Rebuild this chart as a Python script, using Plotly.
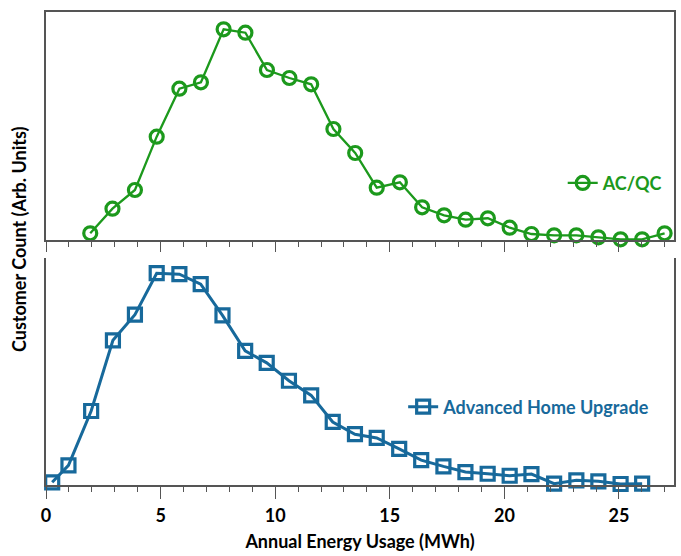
import plotly.graph_objects as go

# AC/QC series (top panel)
acqc_x = [1.93, 2.90, 3.88, 4.83, 5.82, 6.76, 7.75, 8.70, 9.64, 10.62, 11.57, 12.54, 13.49,
          14.43, 15.44, 16.41, 17.37, 18.31, 19.28, 20.23, 21.18, 22.17, 23.14, 24.10,
          25.07, 26.01, 26.99]
acqc_y = [6.7, 31.3, 50, 103.3, 151.3, 157.7, 210.7, 207.3, 170, 162, 155.7, 111, 87,
          52.3, 57.7, 32.7, 24.7, 20.3, 21.7, 12.3, 6, 4.7, 4.7, 2.7, 0.7, 0.7, 6.7]

# Advanced Home Upgrade series (bottom panel)
ahu_x = [0.27, 0.98, 1.97, 2.92, 3.88, 4.83, 5.82, 6.75, 7.70, 8.69, 9.63, 10.60, 11.57,
         12.51, 13.48, 14.43, 15.41, 16.37, 17.34, 18.30, 19.27, 20.23, 21.18, 22.17,
         23.14, 24.10, 25.07, 26.01]
ahu_y = [1.7, 18.7, 73.3, 144.3, 170, 211.7, 210.7, 200.7, 169.3, 133.7, 121.7, 103.7, 89,
         62.3, 50, 46.3, 35.3, 24, 17.7, 12, 10.3, 8.3, 10, 0.3, 3.7, 2.7, 0, 0.3]

x_tickvals = [0, 5, 10, 15, 20, 25]

GREEN = "#1c991c"
BLUE = "#17699b"
AXIS = "#555555"
FONT = "Lato"
FS = 18

fig = go.Figure()
fig.add_trace(go.Scatter(
    x=acqc_x, y=acqc_y, name="AC/QC", mode="lines+markers", showlegend=True,
    line=dict(color=GREEN, width=2.3),
    marker=dict(symbol="circle-open", size=13, color=GREEN, line=dict(width=3.2, color=GREEN)),
    xaxis="x", yaxis="y", legend="legend", cliponaxis=False))
fig.add_trace(go.Scatter(
    x=ahu_x, y=ahu_y, name="Advanced Home Upgrade", mode="lines+markers", showlegend=True,
    line=dict(color=BLUE, width=3),
    marker=dict(symbol="square-open", size=13, color=BLUE, line=dict(width=3.2, color=BLUE)),
    xaxis="x2", yaxis="y2", legend="legend2", cliponaxis=False))

xcommon = dict(range=[0, 27.4], tickvals=x_tickvals, ticks="outside", tickcolor=AXIS,
               showline=True, linecolor=AXIS, linewidth=1.5, showgrid=False, zeroline=False,
               minor=dict(dtick=1, tick0=0, ticks="outside", ticklen=5, tickcolor=AXIS))

fig.update_layout(
    width=681, height=556,
    margin=dict(l=46, r=5, t=12, b=71),
    plot_bgcolor="white", paper_bgcolor="white",
    showlegend=True,
    font=dict(family=FONT, color="black"),
    xaxis=dict(domain=[0, 1], anchor="y", showticklabels=False, ticklen=10, mirror=True, **xcommon),
    yaxis=dict(domain=[0.518, 1], anchor="x", range=[0, 228], showticklabels=False, ticks="",
               showline=True, linecolor=AXIS, linewidth=1.5, mirror=True, showgrid=False,
               zeroline=False),
    xaxis2=dict(domain=[0, 1], anchor="y2", ticklen=12, mirror=False, ticklabelstandoff=2,
                tickfont=dict(family=FONT, size=FS, color="black", weight="bold"),
                title=dict(text="<b>Annual Energy Usage (MWh)</b>",
                           font=dict(family=FONT, size=FS, color="black"), standoff=10),
                **xcommon),
    yaxis2=dict(domain=[0, 0.48], anchor="x2", range=[-1, 227], showticklabels=False, ticks="",
                showline=True, linecolor=AXIS, linewidth=1.5, mirror=True, showgrid=False,
                zeroline=False),
    legend=dict(x=0.99, y=0.638, xanchor="right", yanchor="middle", bgcolor="rgba(0,0,0,0)",
                font=dict(family=FONT, size=FS, color=GREEN, weight="bold")),
    legend2=dict(x=0.97, y=0.165, xanchor="right", yanchor="middle", bgcolor="rgba(0,0,0,0)",
                 font=dict(family=FONT, size=FS, color=BLUE, weight="bold")),
    annotations=[dict(text="<b>Customer Count (Arb. Units)</b>", textangle=-90,
                      xref="paper", yref="paper", x=-0.043, y=0.52, xanchor="center",
                      yanchor="middle", showarrow=False,
                      font=dict(family=FONT, size=FS, color="black"))],
)

fig.write_html("out.html")
